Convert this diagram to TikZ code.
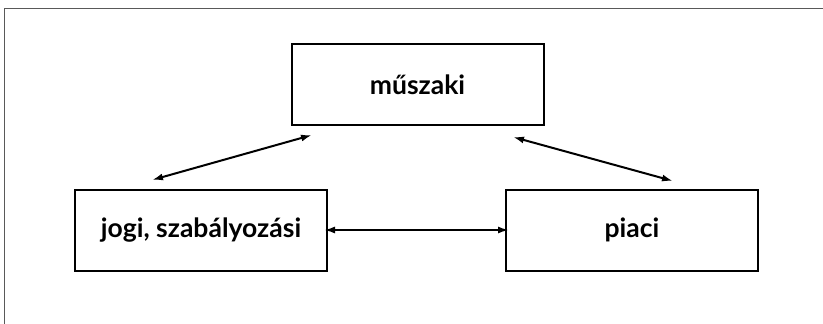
\documentclass[tikz,border=0pt]{standalone}
\usepackage{fontspec}
\setmainfont{Lato}
\usetikzlibrary{arrows.meta}
\begin{document}
\begin{tikzpicture}[x=1pt,y=-1pt,
  box/.style={draw=black,line width=2pt,minimum width=252pt,minimum height=81pt,inner sep=0pt,font=\fontsize{26.5}{30}\selectfont\bfseries},
  link/.style={line width=2pt,{Latex[length=11pt,width=7pt]}-{Latex[length=11pt,width=7pt]}}]
\useasboundingbox (0,0) rectangle (823,324);
\draw[gray!70!black,line width=1.2pt] (4.5,324) -- (4.5,8.5) -- (823,8.5);
\node[box] (m) at (417.5,84.5) {műszaki};
\node[box] (j) at (201,230) {jogi, szabályozási};
\node[box] (p) at (632,230) {piaci};
\coordinate (a1) at (152,180);
\coordinate (a2) at (312,135);
\coordinate (b1) at (513,137);
\coordinate (b2) at (673,181);
\draw[link] (a1) -- (a2);
\draw[link] (b1) -- (b2);
\draw[link] ([xshift=-4pt]j.east) -- ([xshift=4pt]p.west);
\end{tikzpicture}
\end{document}
